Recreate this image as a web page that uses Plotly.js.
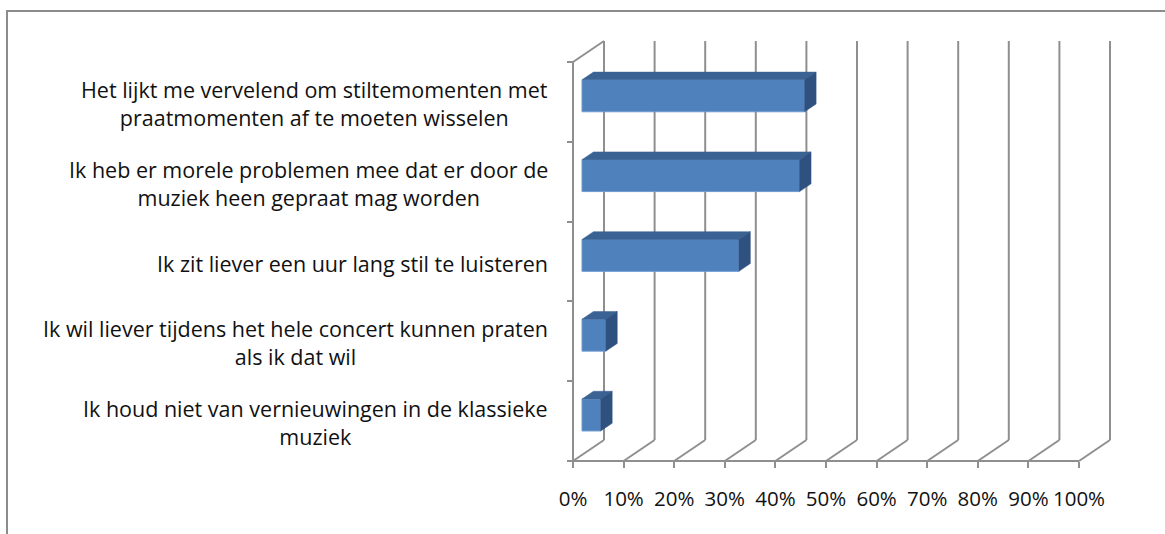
<!DOCTYPE html>
<html>
<head>
<meta charset="utf-8">
<script src="https://cdn.plot.ly/plotly-3.0.1.min.js"></script>
<style>
  html, body { margin: 0; padding: 0; background: #fff; }
  #wrap { position: relative; width: 1165px; height: 534px; overflow: hidden; }
  #chart { position: absolute; left: 0; top: 0; width: 1165px; height: 534px; }
  #frame { position: absolute; left: 6px; top: 10px; width: 1300px; height: 700px;
           border-left: 2px solid #8c8c8c; border-top: 2px solid #8c8c8c; pointer-events: none; }
</style>
</head>
<body>
<div id="wrap"><div id="chart"></div><div id="frame"></div></div>
<script>
// ---- data ----
const categories = [
  "Het lijkt me vervelend om stiltemomenten met<br>praatmomenten af te moeten wisselen",
  "Ik heb er morele problemen mee dat er door de<br>muziek heen gepraat mag worden",
  "Ik zit liever een uur lang stil te luisteren",
  "Ik wil liever tijdens het hele concert kunnen praten<br>als ik dat wil",
  "Ik houd niet van vernieuwingen in de klassieke<br>muziek"
];
const values = [0.44, 0.43, 0.31, 0.047, 0.037];
const xTickVals = [0, 0.1, 0.2, 0.3, 0.4, 0.5, 0.6, 0.7, 0.8, 0.9, 1.0];
const xTickText = ["0%", "10%", "20%", "30%", "40%", "50%", "60%", "70%", "80%", "90%", "100%"];

// ---- geometry (pixels) ----
const W = 1165, H = 534;
const M = {l: 568, r: 50, t: 36, b: 66};
const X0PX = 573, X1PX = 1079;      // front 0% and 100%
const Y0PX = 62, Y5PX = 461;        // front top / bottom of category axis
const DEPTH_PX = 31, DEPTH_PY = 21; // 3D depth offset
const pxPerX = (X1PX - X0PX);
const nCat = categories.length;
const pxPerY = (Y5PX - Y0PX) / nCat;
const plotL = M.l, plotR = W - M.r, plotT = M.t, plotB = H - M.b;
const xRange = [(plotL - X0PX) / pxPerX, (plotR - X0PX) / pxPerX];
const yRange = [(plotB - Y0PX) / pxPerY, (plotT - Y0PX) / pxPerY];
const DX = DEPTH_PX / pxPerX, DY = DEPTH_PY / pxPerY;
const d0 = 0.29, d1 = 0.66;          // bar depth span (fraction)
const barW = 0.4;

const gridColor = "#8f8f8f";
const shapes = [];
function line(x0, y0, x1, y1, layer) {
  shapes.push({type: "line", xref: "x", yref: "y", x0, y0, x1, y1, layer: layer || "below",
               line: {color: gridColor, width: 2}});
}
// back wall gridlines and floor diagonals
xTickVals.forEach(t => {
  line(t + DX, -DY, t + DX, nCat - DY);
  line(t, nCat, t + DX, nCat - DY);
});
// left wall top diagonal
line(0, 0, DX, -DY);
// front axis lines
line(0, 0, 0, nCat);
line(0, nCat, 1, nCat);

// bar positions
const yPos = categories.map((c, i) => i + 0.5 - d0 * DY);
const baseX = d0 * DX;
const ddx = (d1 - d0) * DX, ddy = (d1 - d0) * DY;
values.forEach((v, i) => {
  const yc = yPos[i];
  const yT = yc - barW / 2, yB = yc + barW / 2;
  const xr = baseX + v;
  // top face
  shapes.push({type: "path", xref: "x", yref: "y", layer: "above",
    path: `M${baseX},${yT} L${xr},${yT} L${xr + ddx},${yT - ddy} L${baseX + ddx},${yT - ddy} Z`,
    fillcolor: "#3a6293", line: {color: "#3a6293", width: 0.5}});
  // side face
  shapes.push({type: "path", xref: "x", yref: "y", layer: "above",
    path: `M${xr},${yT} L${xr + ddx},${yT - ddy} L${xr + ddx},${yB - ddy} L${xr},${yB} Z`,
    fillcolor: "#2f5180", line: {color: "#2f5180", width: 0.5}});
});

const annotations = categories.map((c, i) => ({
  xref: "x", yref: "y", x: 0, y: i + 0.52, xanchor: "right", yanchor: "middle",
  xshift: -23, text: c, align: "center", showarrow: false,
  font: {family: "Open Sans, sans-serif", size: 21.5, color: "#111"}
}));

const trace = {
  type: "bar", orientation: "h",
  x: values, y: yPos, base: baseX, width: barW,
  marker: {color: "#4f81bd", line: {color: "#6f9bd0", width: 1}},
  hoverinfo: "skip"
};

const layout = {
  width: W, height: H,
  margin: M,
  paper_bgcolor: "#ffffff", plot_bgcolor: "rgba(0,0,0,0)",
  showlegend: false,
  xaxis: {
    range: xRange, showgrid: false, zeroline: false, showline: false,
    anchor: "free", position: (plotB - Y5PX) / (plotB - plotT),
    tickmode: "array", tickvals: xTickVals, ticktext: xTickText, tickangle: 0,
    ticks: "outside", ticklen: 6, tickwidth: 2, tickcolor: gridColor,
    ticklabelstandoff: 13,
    tickfont: {family: "Open Sans, sans-serif", size: 20.5, color: "#111"}
  },
  yaxis: {
    range: yRange, showgrid: false, zeroline: false, showline: false,
    anchor: "free", position: (X0PX - plotL) / (plotR - plotL),
    showticklabels: false, ticks: "",
    minor: {tickmode: "array", tickvals: [0, 1, 2, 3, 4, 5], ticks: "outside", ticklen: 6,
            tickwidth: 2, tickcolor: gridColor, showgrid: false}
  },
  shapes, annotations
};

Plotly.newPlot("chart", [trace], layout, {staticPlot: true, displayModeBar: false});
</script>
</body>
</html>
